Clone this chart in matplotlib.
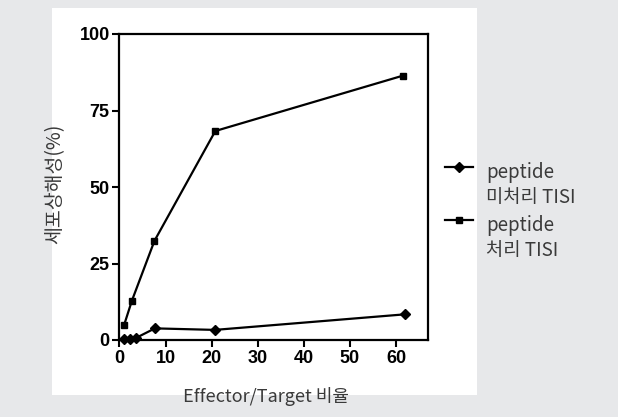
import matplotlib
matplotlib.use("Agg")
import matplotlib.pyplot as plt
from matplotlib.lines import Line2D
from matplotlib.patches import Rectangle

# E/T ratios and % cytotoxicity
et_untreated = [0.9, 2.3, 3.5, 7.7, 20.7, 62]
lysis_untreated = [0.4, 0.3, 0.6, 3.8, 3.3, 8.4]
et_treated = [1.0, 2.7, 7.6, 20.8, 61.5]
lysis_treated = [4.8, 12.8, 32.4, 68.3, 86.4]

labels = ["peptide\n미처리 TISI", "peptide\n처리 TISI"]
x_ticks = [0, 10, 20, 30, 40, 50, 60]
y_ticks = [0, 25, 50, 75, 100]

KR = ["Noto Sans CJK KR", "DejaVu Sans"]
BG = "#e7e8ea"
TXT = "#3a3a3a"

fig = plt.figure(figsize=(6.18, 4.17), dpi=100)
fig.patch.set_facecolor(BG)
# white panel behind the plot
fig.add_artist(Rectangle((52 / 618, 1 - 395 / 417), 425 / 618, 387 / 417,
                         transform=fig.transFigure, facecolor="white",
                         edgecolor="none", zorder=0))

ax = fig.add_axes([119.4 / 618, 1 - 340 / 417, 309 / 618, 306 / 417])
ax.set_facecolor("white")

ax.plot(et_untreated, lysis_untreated, color="black", lw=1.6,
        marker="D", markersize=5, clip_on=False, zorder=3)
ax.plot(et_treated, lysis_treated, color="black", lw=1.6,
        marker="s", markersize=5, clip_on=False, zorder=3)

ax.set_xlim(0, 67)
ax.set_ylim(0, 100)
ax.set_xticks(x_ticks)
ax.set_yticks(y_ticks)
ax.tick_params(direction="out", length=5, width=1.5, pad=2, colors="black")
for lab in ax.get_xticklabels() + ax.get_yticklabels():
    lab.set_family("Liberation Sans")
    lab.set_fontweight("bold")
    lab.set_fontsize(13)
for s in ax.spines.values():
    s.set_linewidth(1.6)

fig.text(55 / 618, 1 - 184 / 417, "세포상해성(%)", rotation=90, ha="center",
         va="center", family=KR, fontweight="light", fontsize=14, color=TXT)
fig.text(266 / 618, 1 - 396 / 417, "Effector/Target 비율", ha="center",
         va="center", family=KR, fontweight="light", fontsize=13, color=TXT)

# legend drawn by hand: handle lines up with the first text line
for i, (lab, mk) in enumerate(zip(labels, ["D", "s"])):
    y0 = 1 - (167 + 53 * i) / 417
    fig.add_artist(Line2D([445 / 618, 473 / 618], [y0, y0],
                          transform=fig.transFigure, color="black", lw=1.6))
    fig.add_artist(Line2D([459 / 618], [y0], transform=fig.transFigure,
                          color="black", marker=mk, markersize=5, lw=0))
    fig.text(486 / 618, y0 + 5 / 417, lab, ha="left", va="top",
             family=KR, fontweight="light", fontsize=13.5, color=TXT,
             linespacing=1.25)

fig.savefig("out.png", dpi=100, facecolor=BG)
